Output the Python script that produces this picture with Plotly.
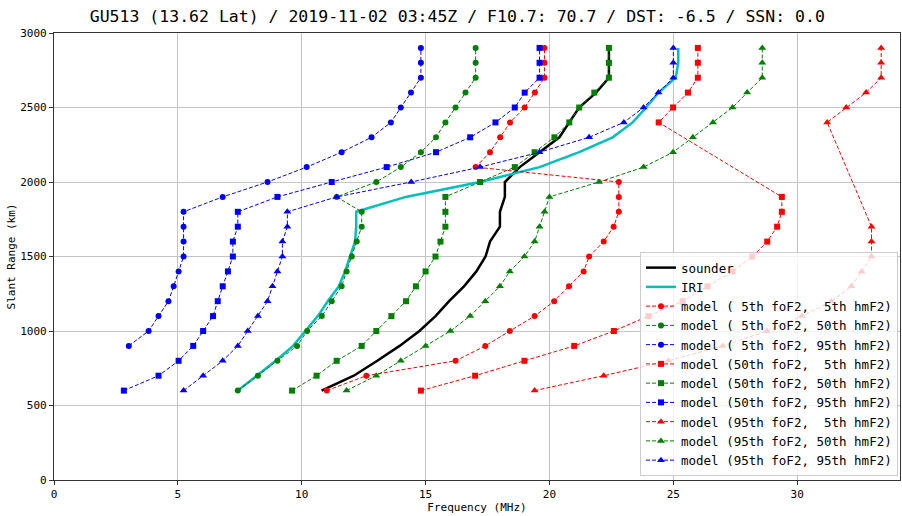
import plotly.graph_objects as go

slant_range = list(range(600, 3000, 100))

sounder = [10.8, 12.1, 13.05, 13.95, 14.75, 15.4, 15.95, 16.55, 17.05, 17.42, 17.6, 18.0,
           18.0, 18.2, 18.2, 18.8, 19.6, 20.4, 20.8, 21.2, 21.88, 22.4, 22.4, 22.4]
iri = [7.42, 8.2, 8.95, 9.65, 10.15, 10.65, 11.05, 11.5, 11.75, 11.95, 12.15, 12.2,
       12.2, 14.2, 17.2, 19.6, 21.2, 22.55, 23.36, 23.9, 24.4, 25.1, 25.2, 25.2]

m_p5_h5 = [11.01, 12.61, 16.21, 17.41, 18.4, 19.4, 20.19, 20.79, 21.38, 21.6, 22.19, 22.59,
           22.8, 22.8, 22.8, 17.02, 17.6, 18.01, 18.41, 19.0, 19.41, 19.8, 19.8, 19.8]
m_p5_h50 = [7.42, 8.23, 9.02, 9.81, 10.22, 10.81, 11.21, 11.61, 11.81, 12.02, 12.22, 12.42,
            12.42, 11.41, 13.01, 14.0, 14.81, 15.42, 15.8, 16.21, 16.61, 17.02, 17.02, 17.02]
m_p5_h95 = [None, None, None, 3.02, 3.82, 4.22, 4.62, 4.83, 5.03, 5.23, 5.23, 5.23,
            5.23, 6.81, 8.62, 10.2, 11.61, 12.82, 13.6, 14.0, 14.41, 14.81, 14.81, 14.81]
m_p50_h5 = [14.81, 17.0, 18.99, 21.0, 22.6, 24.0, 25.38, 26.38, 27.39, 28.19, 28.79, 29.19,
            29.38, 29.38, None, None, None, None, 24.41, 24.99, 25.59, 25.99, 25.99, 25.99]
m_p50_h50 = [9.61, 10.6, 11.41, 12.42, 13.01, 13.62, 14.21, 14.61, 15.0, 15.4, 15.6, 15.8,
             15.8, 15.8, 17.2, 18.6, 19.4, 20.2, 20.8, 21.2, 21.81, 22.4, 22.4, 22.4]
m_p50_h95 = [2.82, 4.22, 5.03, 5.62, 6.02, 6.42, 6.61, 6.81, 7.02, 7.22, 7.22, 7.42,
             7.42, 9.02, 11.21, 13.43, 15.42, 16.8, 17.82, 18.6, 19.0, 19.6, 19.6, 19.6]
m_p95_h5 = [19.4, 22.19, 24.8, 26.99, 28.78, 30.19, 31.38, 32.19, 32.6, 33.0, 33.0, 33.0,
            None, None, None, None, None, None, 31.21, 31.98, 32.78, 33.39, 33.39, 33.39]
m_p95_h50 = [11.81, 13.01, 14.0, 15.0, 16.0, 16.8, 17.41, 18.0, 18.4, 18.99, 19.4, 19.6,
             19.8, 20.0, 22.0, 23.8, 24.99, 25.79, 26.6, 27.39, 27.98, 28.59, 28.59, 28.59]
m_p95_h95 = [5.23, 6.02, 6.81, 7.42, 7.82, 8.23, 8.62, 8.82, 9.02, 9.22, 9.22, 9.42,
             9.42, 11.41, 14.42, 17.2, 19.6, 21.6, 23.0, 23.8, 24.4, 25.0, 25.0, 25.0]

x_ticks = [0, 5, 10, 15, 20, 25, 30]
y_ticks = [0, 500, 1000, 1500, 2000, 2500, 3000]

title = "GU513 (13.62 Lat) / 2019-11-02 03:45Z / F10.7: 70.7 / DST: -6.5 / SSN: 0.0"

NB = "\u00a0"
models = [
    ("( 5th foF2,  5th hmF2)", m_p5_h5, "#ff0000", "circle"),
    ("( 5th foF2, 50th hmF2)", m_p5_h50, "#008000", "circle"),
    ("( 5th foF2, 95th hmF2)", m_p5_h95, "#0000ff", "circle"),
    ("(50th foF2,  5th hmF2)", m_p50_h5, "#ff0000", "square"),
    ("(50th foF2, 50th hmF2)", m_p50_h50, "#008000", "square"),
    ("(50th foF2, 95th hmF2)", m_p50_h95, "#0000ff", "square"),
    ("(95th foF2,  5th hmF2)", m_p95_h5, "#ff0000", "triangle-up"),
    ("(95th foF2, 50th hmF2)", m_p95_h50, "#008000", "triangle-up"),
    ("(95th foF2, 95th hmF2)", m_p95_h95, "#0000ff", "triangle-up"),
]

MONO = "DejaVu Sans Mono"

fig = go.Figure()
fig.add_trace(go.Scatter(x=sounder, y=slant_range, mode="lines", name="sounder",
                         line=dict(color="black", width=2.5)))
fig.add_trace(go.Scatter(x=iri, y=slant_range, mode="lines", name="IRI",
                         line=dict(color="#00bfbf", width=2.5)))
for label, vals, color, sym in models:
    fig.add_trace(go.Scatter(
        x=vals, y=slant_range, mode="lines+markers", connectgaps=True,
        name=("model " + label).replace(" ", NB),
        line=dict(color=color, width=1, dash="4px,2px"),
        marker=dict(color=color, symbol=sym, size=7 if sym == "triangle-up" else 6,
                    line=dict(width=0)),
    ))

fig.update_layout(
    width=902, height=516,
    margin=dict(l=54, r=2, t=33, b=36),
    paper_bgcolor="white", plot_bgcolor="white",
    font=dict(family=MONO, size=11, color="black"),
    title=dict(text=title, x=0.507, xanchor="center", y=0.969, yanchor="middle",
               font=dict(family=MONO, size=16.5, color="black")),
    legend=dict(x=(898 - 54) / 846, xanchor="right", y=4 / 447, yanchor="bottom",
                bgcolor="rgba(255,255,255,0.8)", bordercolor="#cccccc", borderwidth=1,
                font=dict(family=MONO, size=12.5, color="black"), itemwidth=30,
                tracegroupgap=0),
    showlegend=True,
)
fig.update_xaxes(range=[0, 34.15], tickvals=x_ticks, ticktext=[str(v) for v in x_ticks],
                 showgrid=True, gridcolor="#c4c4c4", gridwidth=1, zeroline=False,
                 showline=True, linecolor="#333333", linewidth=1.2, mirror=True,
                 ticks="outside", ticklen=4, tickcolor="#333333",
                 title=dict(text="Frequency (MHz)", font=dict(family=MONO, size=11), standoff=2))
fig.update_yaxes(range=[0, 3000], tickvals=y_ticks, ticktext=[str(v) for v in y_ticks],
                 showgrid=True, gridcolor="#c4c4c4", gridwidth=1, zeroline=False,
                 showline=True, linecolor="#333333", linewidth=1.2, mirror=True,
                 ticks="outside", ticklen=4, tickcolor="#333333",
                 title=dict(text="Slant Range (km)", font=dict(family=MONO, size=11), standoff=2))

fig.write_html("out.html")
